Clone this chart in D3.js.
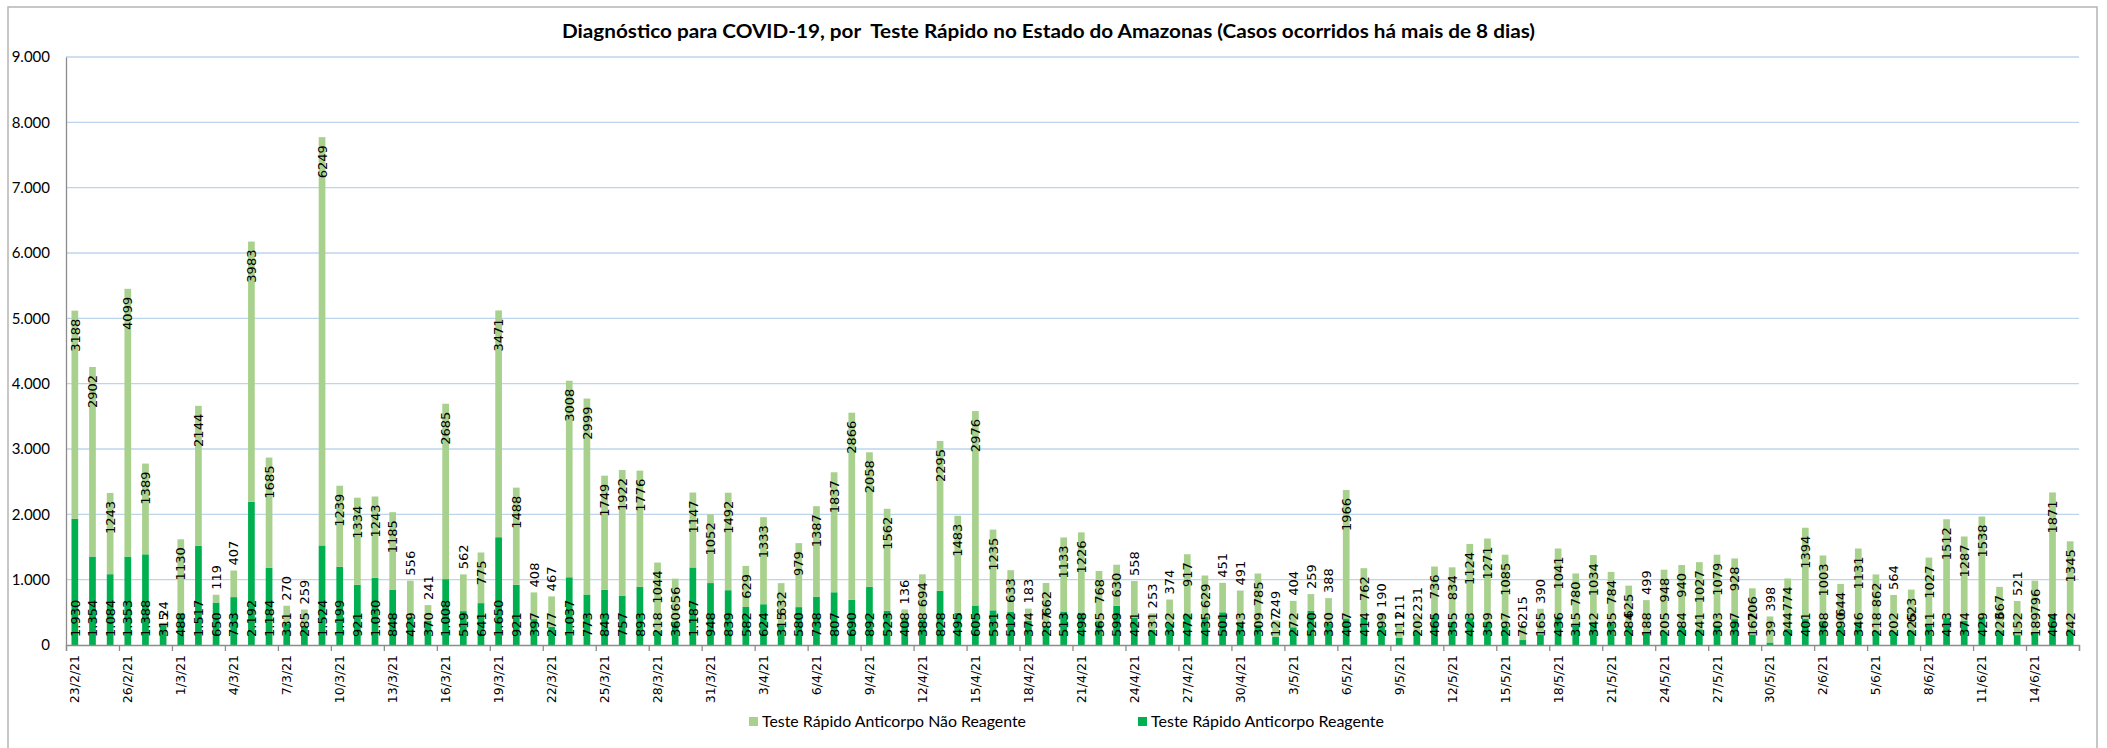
<!DOCTYPE html>
<html><head><meta charset="utf-8">
<script src="https://cdn.jsdelivr.net/npm/d3@7"></script>
<style>body{margin:0;background:#fff} svg{display:block}</style>
</head><body><svg id="c" width="2107" height="748"></svg>
<script>
const categories = [
"23/2/21","24/2/21","25/2/21","26/2/21","27/2/21","28/2/21",
"1/3/21","2/3/21","3/3/21","4/3/21","5/3/21","6/3/21","7/3/21","8/3/21","9/3/21","10/3/21",
"11/3/21","12/3/21","13/3/21","14/3/21","15/3/21","16/3/21","17/3/21","18/3/21","19/3/21","20/3/21",
"21/3/21","22/3/21","23/3/21","24/3/21","25/3/21","26/3/21","27/3/21","28/3/21","29/3/21","30/3/21","31/3/21",
"1/4/21","2/4/21","3/4/21","4/4/21","5/4/21","6/4/21","7/4/21","8/4/21","9/4/21","10/4/21",
"11/4/21","12/4/21","13/4/21","14/4/21","15/4/21","16/4/21","17/4/21","18/4/21","19/4/21","20/4/21",
"21/4/21","22/4/21","23/4/21","24/4/21","25/4/21","26/4/21","27/4/21","28/4/21","29/4/21","30/4/21",
"1/5/21","2/5/21","3/5/21","4/5/21","5/5/21","6/5/21","7/5/21","8/5/21","9/5/21","10/5/21",
"11/5/21","12/5/21","13/5/21","14/5/21","15/5/21","16/5/21","17/5/21","18/5/21","19/5/21","20/5/21",
"21/5/21","22/5/21","23/5/21","24/5/21","25/5/21","26/5/21","27/5/21","28/5/21","29/5/21","30/5/21","31/5/21",
"1/6/21","2/6/21","3/6/21","4/6/21","5/6/21","6/6/21","7/6/21","8/6/21","9/6/21","10/6/21",
"11/6/21","12/6/21","13/6/21","14/6/21","15/6/21","16/6/21"];

const reagente = [
1930,1354,1084,1353,1388,315,488,1517,650,733,
2192,1184,331,285,1524,1199,921,1030,848,429,
370,1008,519,641,1650,921,397,277,1037,773,
843,757,893,218,360,1187,948,839,582,624,
315,580,738,807,690,892,523,408,388,828,
495,605,531,512,374,287,513,498,365,599,
421,231,322,472,435,501,343,309,127,272,
520,330,407,414,299,111,202,465,355,423,
359,297,76,165,436,315,342,335,284,188,
205,284,241,303,397,162,39,244,401,368,
290,346,218,202,225,311,413,374,429,223,
152,189,464,242];

const naoReagente = [
3188,2902,1243,4099,1389,24,1130,2144,119,407,
3983,1685,270,259,6249,1239,1334,1243,1185,556,
241,2685,562,775,3471,1488,408,467,3008,2999,
1749,1922,1776,1044,656,1147,1052,1492,629,1333,
632,979,1387,1837,2866,2058,1562,136,694,2295,
1483,2976,1235,633,183,662,1133,1226,768,630,
558,253,374,917,629,451,491,785,249,404,
259,388,1966,762,190,211,231,736,834,1124,
1271,1085,215,390,1041,780,1034,784,625,499,
948,940,1027,1079,928,706,398,774,1394,1003,
644,1131,862,564,623,1027,1512,1287,1538,667,
521,796,1871,1345];

const yTicks = [0,1000,2000,3000,4000,5000,6000,7000,8000,9000];
const seriesNames = ["Teste Rápido Anticorpo Não Reagente","Teste Rápido Anticorpo Reagente"];
const titleText = "Diagnóstico para COVID-19, por  Teste Rápido no Estado do Amazonas (Casos ocorridos há mais de 8 dias)";
const labelEvery = 3;

const colors = {nao:"#A9D18E", rea:"#00B050", grid:"#BDD5EC", axis:"#8C8C8C"};
const M = {left:66, right:2079, top:57, bottom:645};
const loc = d3.formatLocale({decimal:",", thousands:".", grouping:[3], currency:["",""]});
const fmtSep = loc.format(",d");

const svg = d3.select("#c");
svg.append("rect").attr("x",8).attr("y",7).attr("width",2089).attr("height",780)
  .attr("fill","#fff").attr("stroke","#b5b5b5").attr("stroke-width",1.5);

const n = categories.length;
const x = d3.scaleBand().domain(d3.range(n)).range([M.left, M.right]).paddingInner(0.62).paddingOuter(0.31);
const xb = d3.scaleLinear().domain([0, n]).range([M.left, M.right]);
const y = d3.scaleLinear().domain([0, 9000]).range([M.bottom, M.top]);

// gridlines
svg.append("g").selectAll("line").data(yTicks.filter(d=>d>0)).join("line")
  .attr("x1", M.left).attr("x2", M.right).attr("y1", d=>y(d)).attr("y2", d=>y(d))
  .attr("stroke", colors.grid).attr("stroke-width", 1.4);

// bars
const rows = categories.map((c,i)=>({i, c, r:reagente[i], n:naoReagente[i]}));
const g = svg.append("g");
g.selectAll("rect.r").data(rows).join("rect").attr("class","r")
  .attr("x", d=>x(d.i)).attr("width", x.bandwidth())
  .attr("y", d=>y(d.r)).attr("height", d=>y(0)-y(d.r)).attr("fill", colors.rea);
g.selectAll("rect.n").data(rows).join("rect").attr("class","n")
  .attr("x", d=>x(d.i)).attr("width", x.bandwidth())
  .attr("y", d=>y(d.r+d.n)).attr("height", d=>y(d.r)-y(d.r+d.n)).attr("fill", colors.nao);

// y axis
const yAxis = svg.append("g").attr("transform",`translate(${M.left},0)`)
  .call(d3.axisLeft(y).tickValues(yTicks).tickSize(0).tickPadding(16).tickFormat(fmtSep));
yAxis.select(".domain").attr("stroke", colors.axis).attr("stroke-width",1.3);
yAxis.selectAll("text").attr("font-family","Lato, sans-serif").attr("font-size",15).attr("fill","#000");

// x axis ticks at boundaries
const xTickAxis = svg.append("g").attr("transform",`translate(0,${M.bottom})`)
  .call(d3.axisBottom(xb).tickValues(d3.range(0, n+1, labelEvery)).tickSize(6).tickFormat(""));
xTickAxis.select(".domain").attr("stroke", colors.axis).attr("stroke-width",1.3);
xTickAxis.selectAll("line").attr("stroke", colors.axis).attr("stroke-width",1.3);

// x axis labels
const xLab = svg.append("g").attr("transform",`translate(0,${M.bottom})`)
  .call(d3.axisBottom(x).tickValues(d3.range(0, n, labelEvery)).tickSize(0).tickFormat(i=>categories[i]));
xLab.select(".domain").remove();
xLab.selectAll("text").attr("transform","rotate(-90)").attr("text-anchor","end")
  .attr("x",-10).attr("y",0).attr("dy","0.36em")
  .attr("font-family","DejaVu Sans, sans-serif").attr("font-size",12.5).attr("fill","#000");

// data labels
const lab = svg.append("g").attr("font-family","DejaVu Sans, sans-serif").attr("font-size",13).attr("fill","#000");
rows.forEach(d=>{
  const cx = x(d.i) + x.bandwidth()/2;
  // reagente: inside base
  lab.append("text").attr("transform",`translate(${cx},${y(0)-8}) rotate(-90)`)
    .attr("text-anchor","start").attr("dy","0.36em").text(fmtSep(d.r));
  // nao reagente: inside end or above
  const t = lab.append("text").attr("dy","0.36em").text(String(d.n));
  const L = t.node().getComputedTextLength();
  const top = y(d.r + d.n);
  const segH = y(d.r) - top;
  if (segH >= L + 14) {
    t.attr("transform",`translate(${cx},${top+8}) rotate(-90)`).attr("text-anchor","end");
  } else {
    t.attr("transform",`translate(${cx},${top-5}) rotate(-90)`).attr("text-anchor","start");
  }
});

// title
svg.append("text").attr("x",562).attr("y",38).attr("font-family","Lato, sans-serif")
  .attr("font-weight",700).attr("font-size",18.5).attr("fill","#000").style("white-space","pre")
  .attr("textLength",973).attr("lengthAdjust","spacingAndGlyphs").text(titleText);

// legend
const legend = [
  {name:seriesNames[0], color:colors.nao, sx:749, tx:762, w:264},
  {name:seriesNames[1], color:colors.rea, sx:1138, tx:1151, w:233}
];
const lg = svg.append("g");
legend.forEach(l=>{
  lg.append("rect").attr("x",l.sx).attr("y",717).attr("width",9).attr("height",9).attr("fill",l.color);
  lg.append("text").attr("x",l.tx).attr("y",727).attr("font-family","Lato, sans-serif").attr("font-size",16)
    .attr("fill","#000").attr("textLength",l.w).attr("lengthAdjust","spacingAndGlyphs").text(l.name);
});
</script></body></html>
